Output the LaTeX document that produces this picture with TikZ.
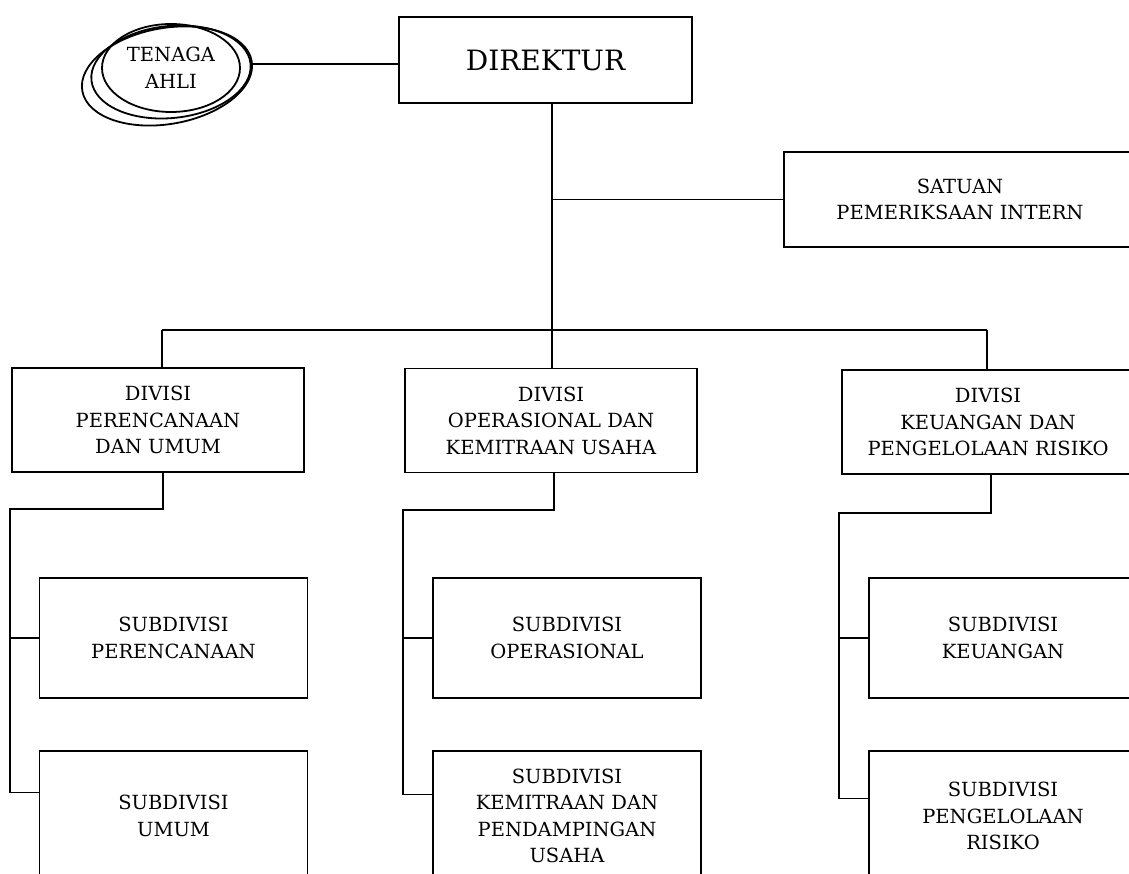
\documentclass[tikz,border=0pt]{standalone}
\usepackage{fontspec}
\setmainfont{DejaVu Serif}
\usetikzlibrary{shapes.geometric}

\begin{document}
\begin{tikzpicture}[x=1pt, y=-1pt,
				every text node part/.style={align=center},
				every node/.style={font=\fontsize{19.5}{26.5}\selectfont},
				block/.style={rectangle, draw=black, line width=1.6pt, inner sep=0pt},
				dirblock/.style={block, minimum width=293pt, minimum height=86pt, font=\fontsize{28}{32}\selectfont},
				divblock/.style={block, minimum width=292pt, minimum height=104pt},
				subblock/.style={block, minimum width=268pt, minimum height=120pt},
				lowblock/.style={block, minimum width=268pt, minimum height=130pt},
				oval/.style={ellipse, draw=black, line width=1.8pt, inner sep=0pt},
				conn/.style={line width=1.3pt}]

					\useasboundingbox (0,0) rectangle (1129,874);
					\clip (0,0) rectangle (1129,874);

					\node[dirblock] (dir) at (545.5,60) {DIREKTUR};
					\node[oval, minimum width=172pt, minimum height=96pt, rotate=10] (ahlic) at (167,76) {};
					\node[oval, minimum width=160pt, minimum height=92pt, rotate=6] (ahlib) at (171,72) {};
					\node[oval, minimum width=138pt, minimum height=88pt] (ahli) at (171,68) {TENAGA\\AHLI};
					\node[block, minimum width=352pt, minimum height=95pt] (spi) at (960,199.5) {SATUAN\\PEMERIKSAAN INTERN};

					\node[divblock] (div1) at (158,420) {DIVISI\\PERENCANAAN\\DAN UMUM};
					\node[divblock] (div2) at (551,420.5) {DIVISI\\OPERASIONAL DAN\\KEMITRAAN USAHA};
					\node[divblock] (div3) at (988,422) {DIVISI\\KEUANGAN DAN\\PENGELOLAAN RISIKO};

					\node[subblock] (sub1a) at (173.5,638) {SUBDIVISI\\PERENCANAAN};
					\node[lowblock] (sub1b) at (173.5,816) {SUBDIVISI\\UMUM};
					\node[subblock] (sub2a) at (567,638) {SUBDIVISI\\OPERASIONAL};
					\node[lowblock] (sub2b) at (567,816) {SUBDIVISI\\KEMITRAAN DAN\\PENDAMPINGAN\\USAHA};
					\node[subblock] (sub3a) at (1003,638) {SUBDIVISI\\KEUANGAN};
					\node[lowblock] (sub3b) at (1003,816) {SUBDIVISI\\PENGELOLAAN\\RISIKO};

					\coordinate (tap) at (0,64);
					\coordinate (bus) at (552,330);
					\coordinate (bus1) at (162,330);
					\coordinate (bus3) at (987,330);
					\coordinate (drop1) at (163,509);
					\coordinate (rail1) at (10,509);
					\coordinate (drop2) at (554,510);
					\coordinate (rail2) at (403,510);
					\coordinate (drop3) at (991,513);
					\coordinate (rail3) at (839,513);

					\draw[conn] (ahlib.east |- tap) -- (tap -| dir.west);
					\draw[conn] (dir.south -| bus) -- (bus);
					\draw[conn] (spi.west -| bus) -- (spi.west);
					\draw[conn] (bus1) -- (bus3);
					\draw[conn] (bus1) -- (bus1 |- div1.north);
					\draw[conn] (bus) -- (bus |- div2.north);
					\draw[conn] (bus3) -- (bus3 |- div3.north);

					\draw[conn] (drop1 |- div1.south) -- (drop1) -- (rail1) |- ([yshift=-42pt]sub1b.north west);
					\draw[conn] (rail1 |- sub1a.west) -- (sub1a.west);
					\draw[conn] (drop2 |- div2.south) -- (drop2) -- (rail2) |- ([yshift=-44pt]sub2b.north west);
					\draw[conn] (rail2 |- sub2a.west) -- (sub2a.west);
					\draw[conn] (drop3 |- div3.south) -- (drop3) -- (rail3) |- ([yshift=-48pt]sub3b.north west);
					\draw[conn] (rail3 |- sub3a.west) -- (sub3a.west);
				\end{tikzpicture}
\end{document}
